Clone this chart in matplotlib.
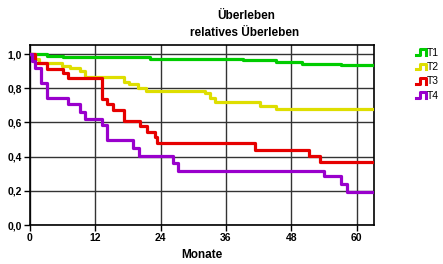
import matplotlib
matplotlib.use('Agg')
import matplotlib.pyplot as plt
from matplotlib.lines import Line2D
from matplotlib.legend_handler import HandlerBase

plt.rcParams['font.family'] = ['Liberation Sans', 'DejaVu Sans']

# Kaplan-Meier Stufen: Zeitpunkte (Monate) und Überlebensanteil
t1_x = [0, 3.1, 6.1, 22.0, 39.1, 45.2, 49.9, 57.2, 63.2]
t1_y = [1.0, 0.99, 0.98, 0.97, 0.965, 0.951, 0.941, 0.935, 0.935]

t2_x = [0, 0.9, 1.6, 5.8, 7.4, 9.2, 10.1, 17.2, 18.1, 19.9, 21.4, 32.2, 33.0, 34.0, 42.2, 45.2, 63.2]
t2_y = [1.0, 0.97, 0.945, 0.93, 0.916, 0.90, 0.867, 0.838, 0.822, 0.80, 0.784, 0.77, 0.74, 0.721, 0.698, 0.677, 0.677]

t3_x = [0, 0.9, 3.1, 6.0, 7.0, 13.2, 14.1, 15.3, 17.2, 20.2, 21.5, 23.0, 23.3, 41.3, 51.2, 53.2, 63.2]
t3_y = [1.0, 0.945, 0.91, 0.887, 0.858, 0.735, 0.708, 0.673, 0.61, 0.579, 0.546, 0.513, 0.481, 0.438, 0.405, 0.37, 0.37]

t4_x = [0, 0.3, 1.0, 2.1, 3.1, 7.0, 9.2, 10.1, 13.2, 14.2, 19.0, 20.1, 26.2, 27.2, 54.1, 57.2, 58.2, 63.2]
t4_y = [1.0, 0.96, 0.916, 0.829, 0.741, 0.708, 0.663, 0.62, 0.585, 0.497, 0.449, 0.404, 0.365, 0.318, 0.287, 0.24, 0.193, 0.193]

labels = ['T1', 'T2', 'T3', 'T4']
farben = ['#00cc00', '#dede00', '#e60000', '#9900cc']
xticks = [0, 12, 24, 36, 48, 60]
yticks = [0.0, 0.2, 0.4, 0.6, 0.8, 1.0]


class StufenHandler(HandlerBase):
    # kleines Treppensymbol wie im Original
    def create_artists(self, legend, orig, xd, yd, w, h, fontsize, trans):
        xs = [xd, xd + w * 0.4, xd + w * 0.4, xd + w, xd + w]
        ys = [yd + h * 0.1, yd + h * 0.1, yd + h * 0.9, yd + h * 0.9, yd + h * 0.1]
        ln = Line2D(xs, ys, color=orig.get_color(), lw=2.2, transform=trans)
        return [ln]


fig = plt.figure(figsize=(4.43, 2.64), dpi=100)
ax = fig.add_axes([0.0677, 0.1477, 0.7765, 0.682])

daten = [(t1_x, t1_y), (t2_x, t2_y), (t3_x, t3_y), (t4_x, t4_y)]
linien = []
for (x, y), lab, c in zip(daten, labels, farben):
    l, = ax.step(x, y, where='post', color=c, lw=2.3, label=lab, zorder=3)
    linien.append(l)

ax.set_xlim(0, 63.2)
ax.set_ylim(0, 1.053)
ax.set_xticks(xticks)
ax.set_yticks(yticks)
ax.set_yticklabels([('%.1f' % v).replace('.', ',') for v in yticks])
ax.grid(True, color='#333333', lw=1.0)
for s in ax.spines.values():
    s.set_linewidth(1.2)
ax.tick_params(labelsize=7.5, length=4, width=1, pad=2)
for lbl in ax.get_xticklabels() + ax.get_yticklabels():
    lbl.set_fontweight('bold')

ax.set_xlabel('Monate', fontsize=8.5, fontweight='bold', labelpad=4)

fig.text(0.555, 0.94, 'Überleben', ha='center', va='center', fontsize=8.5, fontweight='bold')
fig.text(0.553, 0.875, 'relatives Überleben', ha='center', va='center', fontsize=8.5, fontweight='bold')

fig.legend(handles=linien, labels=labels, loc='upper left', bbox_to_anchor=(0.939, 0.818),
           frameon=False, fontsize=7.5, handlelength=1.0, handletextpad=0.05,
           labelspacing=0.4, borderpad=0, borderaxespad=0,
           handler_map={Line2D: StufenHandler()})

fig.savefig('out.png', dpi=100)
